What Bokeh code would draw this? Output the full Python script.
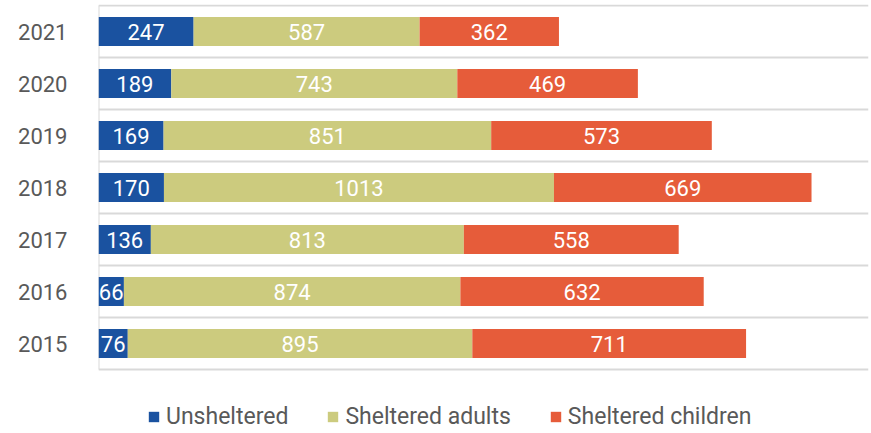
from bokeh.plotting import figure
from bokeh.models import ColumnDataSource, Range1d, FixedTicker, Legend, LegendItem
from bokeh.core.properties import value
from bokeh.embed import file_html
from bokeh.resources import INLINE

years = ["2015", "2016", "2017", "2018", "2019", "2020", "2021"]
unsheltered = [76, 66, 136, 170, 169, 189, 247]
sheltered_adults = [895, 874, 813, 1013, 851, 743, 587]
sheltered_children = [711, 632, 558, 669, 573, 469, 362]

series_names = ["Unsheltered", "Sheltered adults", "Sheltered children"]
colors = ["#1a52a0", "#cccb7e", "#e65c3a"]
series = [unsheltered, sheltered_adults, sheltered_children]

n = len(years)
ypos = list(range(n))

p = figure(width=871, height=433, output_backend="svg", toolbar_location=None,
           x_range=Range1d(0, 2000), y_range=Range1d(-1.73, n - 0.48),
           min_border_left=98, min_border_right=3, min_border_top=4, min_border_bottom=0)
p.outline_line_color = None
p.background_fill_color = "white"
p.border_fill_color = "white"

# left axis line spanning only the category area
p.segment(x0=[0], y0=[-0.5], x1=[0], y1=[n - 0.5], line_color="#d9d9d9", line_width=2)

items = []
left = [0] * n
for name, col, vals in zip(series_names, colors, series):
    right = [l + v for l, v in zip(left, vals)]
    src = ColumnDataSource(dict(y=ypos, left=left, right=right,
                                mid=[(l + r) / 2 for l, r in zip(left, right)],
                                lab=[str(v) for v in vals]))
    r = p.hbar(y="y", left="left", right="right", height=0.56, source=src,
               fill_color=col, line_color=None)
    p.text(x="mid", y="y", text="lab", source=src, text_color="white",
           text_font=value("Roboto"), text_font_size="22px",
           text_align="center", text_baseline="middle")
    items.append(LegendItem(label=name, renderers=[r]))
    left = right

p.xaxis.visible = False
p.xgrid.visible = False
p.ygrid.ticker = FixedTicker(ticks=[i - 0.5 for i in range(n + 1)])
p.ygrid.grid_line_color = "#d9d9d9"
p.ygrid.grid_line_width = 2

p.yaxis.ticker = FixedTicker(ticks=ypos)
p.yaxis.major_label_overrides = {i: y for i, y in zip(ypos, years)}
p.yaxis.major_tick_line_color = None
p.yaxis.minor_tick_line_color = None
p.yaxis.axis_line_color = None
p.yaxis.major_label_text_font = "Roboto"
p.yaxis.major_label_text_font_size = "22px"
p.yaxis.major_label_text_color = "#595959"
p.yaxis.major_label_standoff = 25

legend = Legend(items=items, orientation="horizontal", location=(49, 3),
                label_text_font="Roboto", label_text_font_size="23px",
                label_text_color="#595959", glyph_width=13, glyph_height=13,
                spacing=38, border_line_color=None, background_fill_alpha=0,
                padding=0, margin=0, label_standoff=6)
p.add_layout(legend)

open("out.html", "w").write(file_html(p, INLINE))
